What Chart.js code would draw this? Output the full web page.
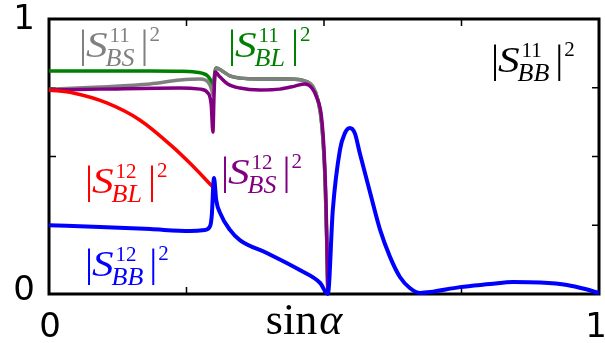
<!DOCTYPE html>
<html>
<head>
<meta charset="utf-8">
<script src="https://cdn.jsdelivr.net/npm/chart.js@4/dist/chart.umd.min.js"></script>
<style>
  html, body { margin: 0; padding: 0; background: #fff; }
</style>
</head>
<body>
<canvas id="grafico" width="605" height="343"></canvas>
<script>
// valores (x = sin alpha)
const greenX = [0, 0.10, 0.184, 0.238, 0.262, 0.278, 0.289, 0.295, 0.298, 0.302, 0.304, 0.315, 0.329, 0.347, 0.384, 0.438, 0.465, 0.480, 0.489, 0.496, 0.502, 0.505, 0.507];
const greenY = [0.811, 0.811, 0.811, 0.810, 0.808, 0.803, 0.792, 0.772, 0.752, 0.812, 0.822, 0.811, 0.793, 0.785, 0.782, 0.782, 0.775, 0.753, 0.705, 0.615, 0.415, 0.196, 0];

const grayX = [0, 0.093, 0.184, 0.238, 0.275, 0.289, 0.296, 0.298, 0.302, 0.304, 0.315, 0.329, 0.347, 0.384, 0.438, 0.465, 0.480, 0.489, 0.496, 0.502, 0.505, 0.507];
const grayY = [0.745, 0.753, 0.764, 0.778, 0.782, 0.771, 0.742, 0.724, 0.800, 0.822, 0.811, 0.793, 0.785, 0.782, 0.782, 0.775, 0.753, 0.705, 0.615, 0.415, 0.196, 0];

const purpleX = [0, 0.093, 0.238, 0.275, 0.289, 0.295, 0.298, 0.300, 0.302, 0.311, 0.325, 0.347, 0.384, 0.420, 0.447, 0.465, 0.478, 0.487, 0.495, 0.500, 0.504, 0.507];
const purpleY = [0.742, 0.745, 0.749, 0.745, 0.731, 0.687, 0.589, 0.720, 0.807, 0.789, 0.764, 0.749, 0.742, 0.745, 0.756, 0.764, 0.749, 0.713, 0.651, 0.524, 0.305, 0];

const redX = [0, 0.044, 0.105, 0.165, 0.225, 0.256, 0.298];
const redY = [0.742, 0.731, 0.695, 0.633, 0.535, 0.476, 0.389];

const blueX = [0, 0.093, 0.184, 0.256, 0.284, 0.293, 0.296, 0.300, 0.304, 0.311, 0.329, 0.347, 0.396, 0.456, 0.493, 0.507, 0.516, 0.529, 0.538, 0.547, 0.556, 0.565, 0.584, 0.602, 0.620, 0.638, 0.656, 0.675, 0.693, 0.747, 0.802, 0.844, 0.893, 0.942, 0.975, 1];
const blueY = [0.250, 0.244, 0.236, 0.229, 0.233, 0.247, 0.287, 0.422, 0.342, 0.295, 0.233, 0.196, 0.149, 0.087, 0.040, 0, 0.305, 0.524, 0.585, 0.604, 0.585, 0.513, 0.367, 0.233, 0.135, 0.062, 0.022, 0.004, 0.007, 0.025, 0.036, 0.044, 0.042, 0.033, 0.018, 0.003];

const ticksPos = [0.25, 0.5, 0.75];
const tickLabels = ['0', '1'];

function puntos(xs, ys) {
  return xs.map((x, i) => ({ x: x, y: ys[i] }));
}

// etiquetas |S^a_b|^2 (x = barra izquierda, y = linea base de la S)
const etiquetas = [
  { x: 79, y: 57, color: '#808080', sup: '11', sub: 'BS' },
  { x: 228, y: 57, color: '#008000', sup: '11', sub: 'BL' },
  { x: 491, y: 72, color: '#000000', sup: '11', sub: 'BB' },
  { x: 85, y: 193, color: '#ff0000', sup: '12', sub: 'BL' },
  { x: 221, y: 184, color: '#800080', sup: '12', sub: 'BS' },
  { x: 85, y: 276, color: '#0000ff', sup: '12', sub: 'BB' }
];

function dibujarEtiqueta(ctx, e) {
  let x = e.x;
  ctx.fillStyle = e.color;
  ctx.textBaseline = 'alphabetic';
  ctx.textAlign = 'left';
  ctx.font = '40px "Liberation Serif"';
  ctx.fillText('|', x, e.y);
  x += 8;
  // S caligrafica: cursiva fina algo ensanchada
  ctx.font = 'italic 36px "Liberation Serif"';
  const wS = ctx.measureText('S').width * 1.2;
  ctx.save();
  ctx.translate(x - 1, e.y);
  ctx.scale(1.2, 1);
  ctx.fillText('S', 0, 0);
  ctx.restore();
  x += wS + 1;
  ctx.font = '21px "Liberation Serif"';
  const wSup = ctx.measureText(e.sup).width;
  ctx.fillText(e.sup, x, e.y - 15);
  ctx.font = 'italic 26px "Liberation Serif"';
  const wSub = ctx.measureText(e.sub).width;
  ctx.fillText(e.sub, x - 4, e.y + 9);
  x += Math.max(wSup, wSub - 4) + 6;
  ctx.font = '40px "Liberation Serif"';
  ctx.fillText('|', x, e.y);
  x += 9;
  ctx.font = '21px "Liberation Serif"';
  ctx.fillText('2', x, e.y - 16);
}

const marco = {
  id: 'marco',
  beforeDatasetsDraw(chart) {
    const ctx = chart.ctx;
    const a = chart.chartArea;
    const sx = chart.scales.x, sy = chart.scales.y;
    ctx.save();
    ctx.strokeStyle = '#000';
    ctx.lineWidth = 1.5;
    ticksPos.forEach(v => {
      const px = sx.getPixelForValue(v);
      const py = sy.getPixelForValue(v);
      ctx.beginPath();
      ctx.moveTo(px, a.bottom); ctx.lineTo(px, a.bottom - 7);
      ctx.moveTo(px, a.top); ctx.lineTo(px, a.top + 7);
      ctx.moveTo(a.left, py); ctx.lineTo(a.left + 7, py);
      ctx.moveTo(a.right, py); ctx.lineTo(a.right - 7, py);
      ctx.stroke();
    });
    ctx.lineWidth = 3;
    ctx.strokeRect(a.left, a.top, a.right - a.left, a.bottom - a.top);
    ctx.restore();
  },
  afterDatasetsDraw(chart) {
    const ctx = chart.ctx;
    const a = chart.chartArea;
    ctx.save();
    ctx.fillStyle = '#000';
    ctx.font = '34px "DejaVu Sans"';
    ctx.textAlign = 'center';
    ctx.textBaseline = 'alphabetic';
    ctx.fillText(tickLabels[0], a.left + 1, 337);
    ctx.fillText(tickLabels[1], 596, 337);
    ctx.textAlign = 'right';
    ctx.textBaseline = 'middle';
    ctx.fillText(tickLabels[1], 35, a.top + 1);
    ctx.fillText(tickLabels[0], 35, a.bottom - 3);
    // titulo del eje x
    ctx.textAlign = 'left';
    ctx.textBaseline = 'alphabetic';
    ctx.font = '44px "Liberation Serif"';
    const w1 = ctx.measureText('sin').width;
    ctx.font = 'italic 44px "Liberation Serif"';
    const w2 = ctx.measureText('\u03b1').width;
    const x0 = 304 - (w1 + w2 + 2) / 2;
    ctx.font = '44px "Liberation Serif"';
    ctx.fillText('sin', x0, 334);
    ctx.font = 'italic 44px "Liberation Serif"';
    ctx.fillText('\u03b1', x0 + w1 + 2, 334);
    etiquetas.forEach(e => dibujarEtiqueta(ctx, e));
    ctx.restore();
  }
};

const serie = (datos, color, ancho) => ({
  data: datos,
  borderColor: color,
  borderWidth: ancho,
  pointRadius: 0,
  fill: false,
  cubicInterpolationMode: 'monotone',
  clip: 6
});

new Chart(document.getElementById('grafico'), {
  type: 'line',
  data: {
    datasets: [
      serie(puntos(blueX, blueY), '#0000ff', 4),
      serie(puntos(redX, redY), '#ff0000', 3.5),
      serie(puntos(purpleX, purpleY), '#800080', 3.5),
      serie(puntos(grayX, grayY), '#808080', 3.5),
      serie(puntos(greenX, greenY), '#008000', 3.5)
    ]
  },
  options: {
    responsive: false,
    animation: false,
    devicePixelRatio: 1,
    layout: { padding: { left: 49, top: 19, right: 6, bottom: 49 } },
    plugins: { legend: { display: false }, tooltip: { enabled: false } },
    scales: {
      x: { type: 'linear', min: 0, max: 1, display: false },
      y: { type: 'linear', min: 0, max: 1, display: false }
    }
  },
  plugins: [marco]
});
</script>
</body>
</html>
